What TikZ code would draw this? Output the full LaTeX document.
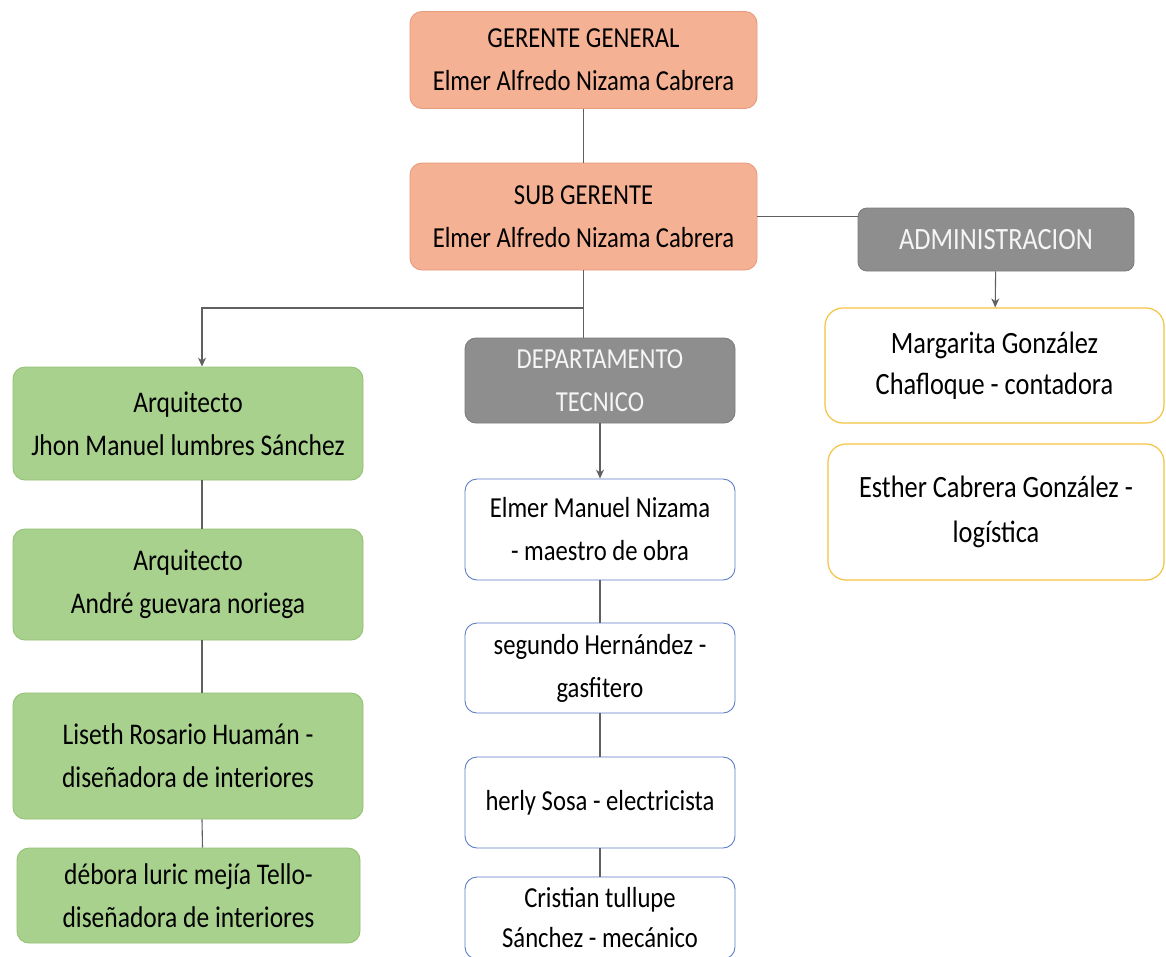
\documentclass[tikz,border=0pt]{standalone}
\usepackage{fontspec}
\setmainfont{Carlito}[FakeStretch=0.85]
\usetikzlibrary{arrows.meta}
\definecolor{orfill}{HTML}{F5B194}
\definecolor{ordraw}{HTML}{E99A7C}
\definecolor{grfill}{HTML}{A9D18E}
\definecolor{grdraw}{HTML}{93C176}
\definecolor{gyfill}{HTML}{8E8E8E}
\definecolor{gydraw}{HTML}{7C7C7C}
\definecolor{yedraw}{HTML}{F5C342}
\definecolor{bldraw}{HTML}{5B7FC4}
\definecolor{lncol}{HTML}{606060}
\tikzset{
  box/.style={rectangle, rounded corners=12pt, align=center, inner sep=0pt,
    font=\fontsize{29}{43}\selectfont, line width=0.9pt},
  orbox/.style={box, fill=orfill, draw=ordraw, minimum width=347pt, minimum height=97pt},
  grbox/.style={box, fill=grfill, draw=grdraw, minimum width=350pt, font=\fontsize{30}{43}\selectfont},
  gybox/.style={box, fill=gyfill, draw=gydraw, text=white!96!black},
  yebox/.style={box, fill=white, draw=yedraw, line width=1.2pt, font=\fontsize{31}{41}\selectfont},
  blbox/.style={box, fill=white, draw=bldraw, minimum width=270pt},
  conn/.style={draw=lncol, line width=1.1pt},
  arr/.style={conn, -{Stealth[length=9pt,width=8pt]}}
}
\begin{document}
\begin{tikzpicture}[x=1pt,y=-1pt]
\useasboundingbox[fill=white] (0,0) rectangle (1166,956);
% top
\node[orbox] (gg) at (583.5,60) {GERENTE GENERAL\\Elmer Alfredo Nizama Cabrera};
\node[orbox, minimum height=107pt] (sg) at (583.5,216.5) {SUB GERENTE\\Elmer Alfredo Nizama Cabrera};
% administracion
\node[gybox, minimum width=276pt, minimum height=63pt, rounded corners=9pt, font=\fontsize{31}{43}\selectfont] (adm) at (996,239.5) {ADMINISTRACION};
\node[yebox, minimum width=339pt, minimum height=115pt, rounded corners=18pt] (mar) at (994.5,365.5) {Margarita González\\Chafloque - contadora};
\node[yebox, minimum width=336pt, minimum height=136pt, rounded corners=18pt, font=\fontsize{31}{45}\selectfont] (est) at (996,512) {Esther Cabrera González -\\logística};
% departamento
\node[gybox, minimum width=270pt, minimum height=85pt, rounded corners=11pt] (dep) at (600,380.5) {DEPARTAMENTO\\TECNICO};
\node[blbox, minimum height=101pt] (t1) at (600,529.5) {Elmer Manuel Nizama\\- maestro de obra};
\node[blbox, minimum height=90pt] (t2) at (600,668) {segundo Hernández -\\gasfitero};
\node[blbox, minimum height=91pt] (t3) at (600,802.5) {herly Sosa - electricista};
\node[blbox, minimum height=82pt, font=\fontsize{29}{40}\selectfont] (t4) at (600,918) {Cristian tullupe\\Sánchez - mecánico};
% green column
\node[grbox, minimum height=113pt] (a1) at (188,423.5) {Arquitecto\\Jhon Manuel lumbres Sánchez};
\node[grbox, minimum height=111pt] (a2) at (188,584.5) {Arquitecto\\André guevara noriega};
\node[grbox, minimum height=126pt] (a3) at (188,756) {Liseth Rosario Huamán -\\diseñadora de interiores};
\node[grbox, minimum width=343pt, minimum height=95pt] (a4) at (188.5,895.5) {débora luric mejía Tello-\\diseñadora de interiores};
% connectors
\coordinate (split) at (583.5,308);
\draw[conn] (gg) -- (sg);
\draw[conn] (sg.east) -- (sg.east -| adm.west);
\draw[arr] (adm) -- (mar);
\draw[conn] (sg.south) -- (split) -- (split |- dep.north);
\draw[arr] (split) -| ([xshift=14pt]a1.north);
\draw[conn] ([xshift=14pt]a1.south) -- ([xshift=14pt]a2.north);
\draw[conn] ([xshift=14pt]a2.south) -- ([xshift=14pt]a3.north);
\draw[conn] ([xshift=14pt]a3.south) -- ([xshift=14pt]a4.north);
\draw[arr] (dep) -- (t1);
\draw[conn] (t1) -- (t2);
\draw[conn] (t2) -- (t3);
\draw[conn] (t3) -- (t4);
\end{tikzpicture}
\end{document}
